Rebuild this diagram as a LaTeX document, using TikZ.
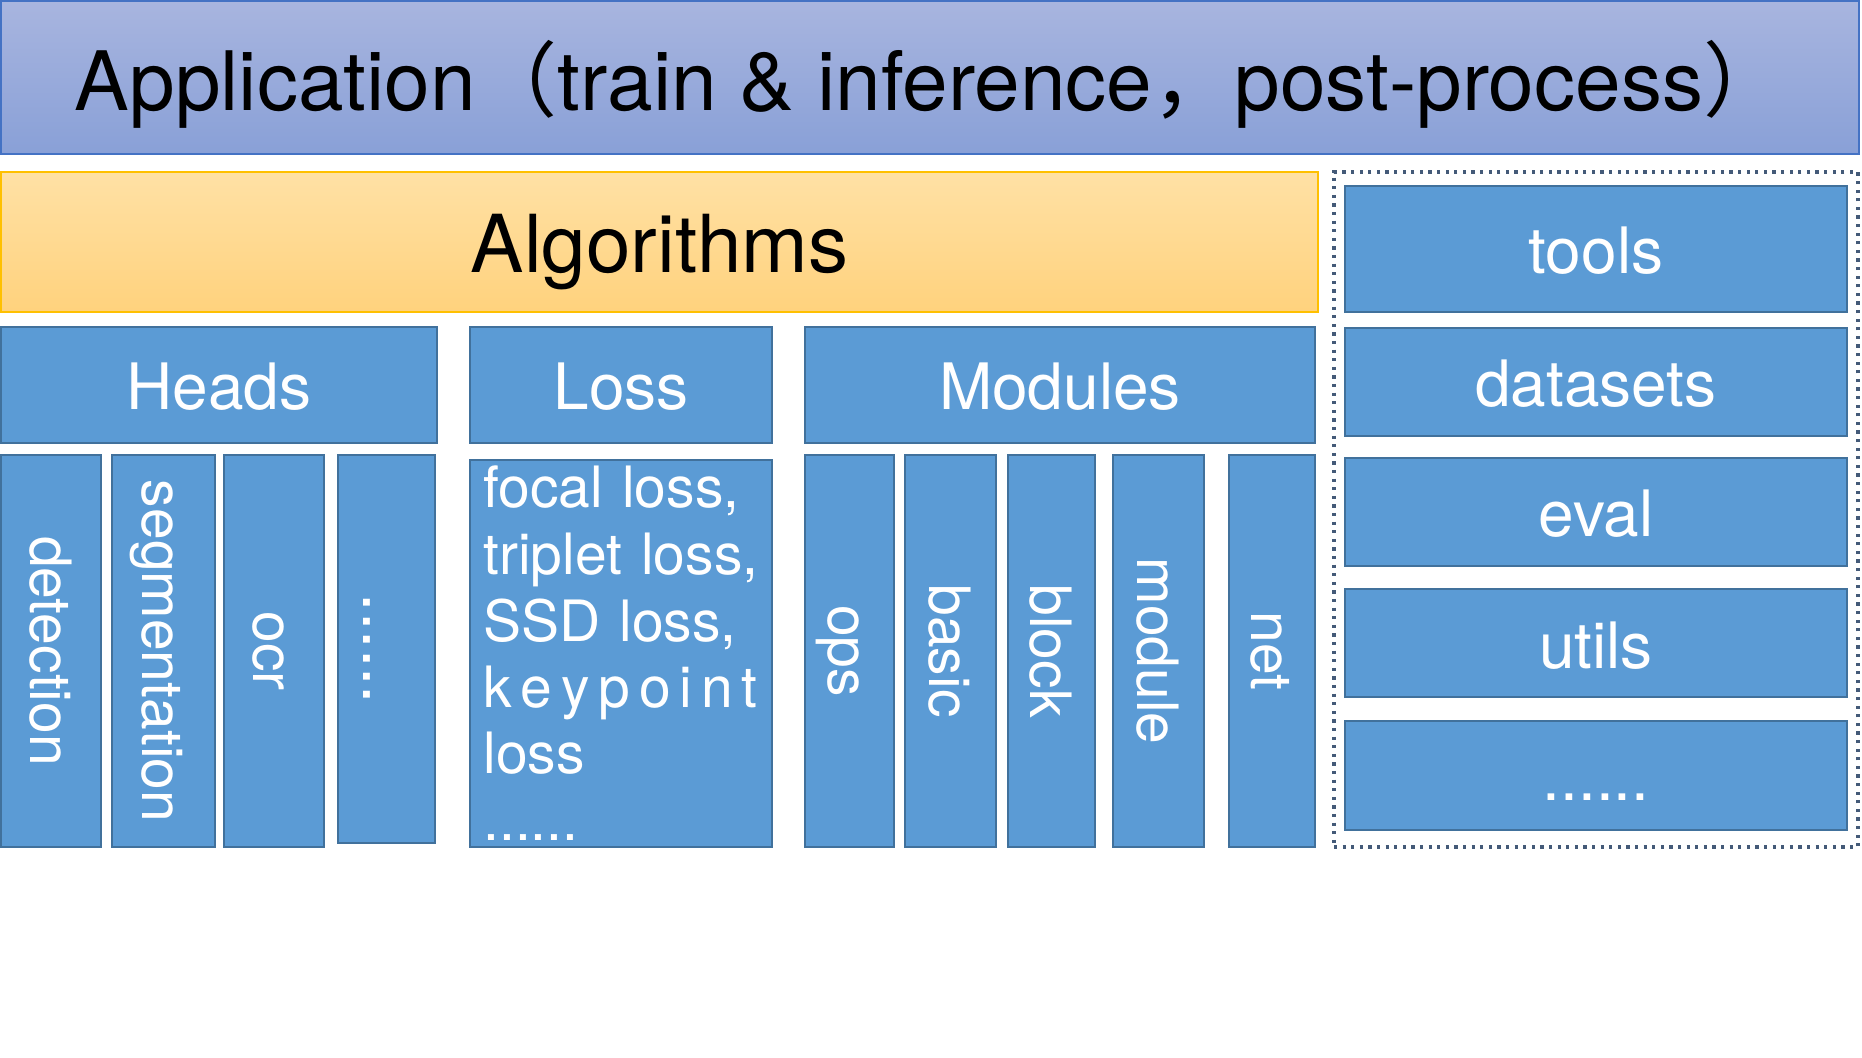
\documentclass[tikz,border=0pt]{standalone}
\usepackage{fontspec}
\setmainfont{TeX Gyre Heros}
\newfontfamily\cjk{Noto Sans CJK SC}

\definecolor{appTop}{RGB}{168,181,223}
\definecolor{appBot}{RGB}{137,160,215}
\definecolor{appLine}{RGB}{68,114,196}
\definecolor{algTop}{RGB}{255,225,165}
\definecolor{algBot}{RGB}{255,210,125}
\definecolor{algLine}{RGB}{255,192,0}
\definecolor{boxFill}{RGB}{91,155,213}
\definecolor{boxLine}{RGB}{65,113,156}
\definecolor{dotLine}{RGB}{68,90,120}

\tikzset{
  bluebox/.style={draw=boxLine, fill=boxFill, line width=1pt, text=white,
    inner sep=0pt, text height=25pt, text depth=0pt,
    font=\fontsize{32}{38}\selectfont},
  vbox/.style={bluebox, rotate=-90, text height=21pt,
    font=\fontsize{28.5}{34}\selectfont},
  appbox/.style={draw=appLine, line width=1pt, top color=appTop, bottom color=appBot,
    inner sep=0pt, text height=33pt, text depth=0pt,
    font=\fontsize{41}{49}\selectfont},
  algbox/.style={draw=algLine, line width=1pt, top color=algTop, bottom color=algBot,
    inner sep=0pt, text height=31pt, text depth=0pt,
    font=\fontsize{40}{48}\selectfont},
  dotbox/.style={draw=dotLine, line width=1.6pt, dash pattern=on 1.6pt off 2.7pt,
    inner sep=0pt},
  listtext/.style={text=white, inner sep=0pt, align=left, text width=145pt,
    font=\fontsize{28.5}{33.25}\selectfont}
}

\begin{document}
\begin{tikzpicture}[x=0.5pt, y=-0.5pt]
  \useasboundingbox (0,0) rectangle (1862,1058);

  % 应用层
  \node[appbox, minimum width=929pt, minimum height=76.5pt] (app) at (930,77.5)
    {Application{\cjk （}train \& inference{\cjk ，}post-process{\cjk ）}};

  % 算法层
  \node[algbox, minimum width=658.5pt, minimum height=70pt] (algo) at (659.5,242) {Algorithms};

  % 第二行
  \node[bluebox, minimum width=218pt, minimum height=58pt] (heads) at (219,385) {Heads};
  \node[bluebox, minimum width=151pt, minimum height=58pt] (loss) at (621,385) {Loss};
  \node[bluebox, minimum width=255pt, minimum height=58pt] (modules) at (1060,385) {Modules};

  % 竖排的小块
  \foreach \cx/\w/\name/\txt in {51/50/det/detection, 163.5/51.5/seg/segmentation,
      274/50/ocr/ocr, 849.5/44.5/ops/ops, 950.5/45.5/basic/basic,
      1051.5/43.5/block/block, 1158.5/45.5/module/module, 1272/43/net/net} {
    \node[vbox, minimum width=196pt, minimum height=\w pt] (\name) at (\cx,651) {\txt};
  }
  \node[vbox, minimum width=194pt, minimum height=48.5pt, text height=23pt,
    font=\fontsize{33}{40}\selectfont] (hdots) at (386.5,649) {......};

  % 损失函数列表
  \node[bluebox, minimum width=151pt, minimum height=193.5pt] (lossd) at (621,653.5) {};
  \node[listtext, anchor=base west] (losstxt) at (483,508)
    {focal loss,\\triplet loss,\\SSD loss,\\
     \makebox[137pt][s]{k\hfil e\hfil y\hfil p\hfil o\hfil i\hfil n\hfil t}\\loss\\......};

  % 右侧工具
  \node[dotbox, minimum width=262pt, minimum height=337.5pt] (others) at (1596,509.5) {};
  \node[bluebox, minimum width=251pt, minimum height=63pt] (tools) at (1596,249) {tools};
  \foreach \cy/\name/\txt in {382/datasets/datasets, 512/eval/eval, 643/utils/utils} {
    \node[bluebox, minimum width=251pt, minimum height=54pt] (\name) at (1596,\cy) {\txt};
  }
  \node[bluebox, minimum width=251pt, minimum height=54.5pt] (rdots) at (1596,775.5) {......};
\end{tikzpicture}
\end{document}
